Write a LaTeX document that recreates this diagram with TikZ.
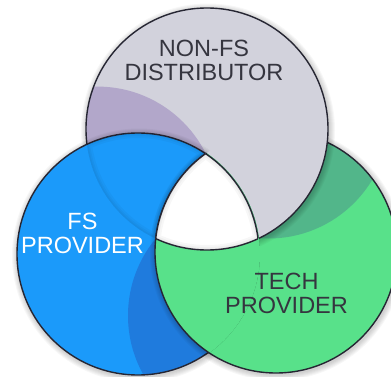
\documentclass[tikz,border=0pt]{standalone}
\usepackage{fontspec}
\setmainfont{Liberation Sans}
\usepackage{tikz}
\definecolor{distgray}{HTML}{D2D2DC}
\definecolor{distpurple}{HTML}{B2A7CA}
\definecolor{fsblue}{HTML}{1B9AFA}
\definecolor{fsdeep}{HTML}{1F7BDD}
\definecolor{techgreen}{HTML}{58E18A}
\definecolor{techdeep}{HTML}{52B68A}
\definecolor{rimgray}{HTML}{262633}
\definecolor{ink}{HTML}{35353F}
\def\ringr{121}
% soft drop shadow round one ring
\newcommand{\softshadow}[1]{%
  \foreach \k in {1,...,6}
    \fill[black,opacity=0.03] ([shift={(1,1.5)}]#1) circle [radius=\ringr+\k];}

\begin{document}
\begin{tikzpicture}[x=1pt,y=-1pt,
    rim/.style={draw=rimgray,line width=1.4pt},
    ringtext/.style={font=\fontsize{23.5}{24}\selectfont,align=center,inner sep=0pt,anchor=north}]
  \fill[white] (0,0) rectangle (391,377);
  \useasboundingbox (0,0) rectangle (391,377);
  \coordinate (dist) at (207,129);
  \coordinate (fs) at (138,254);
  \coordinate (tech) at (276,252);
  \coordinate (distsh) at (97.5,207.6);
  \coordinate (techsh) at (268.5,117.5);
  \coordinate (fssh) at (249,315.6);

  % tech ring, lies under the distributor
  \softshadow{tech}
  \fill[techgreen] (tech) circle [radius=\ringr];
  \begin{scope}
    \clip (tech) circle [radius=\ringr];
    \fill[techdeep] (techsh) circle [radius=\ringr];
  \end{scope}
  \draw[rim] (tech) circle [radius=\ringr];

  % distributor ring
  \softshadow{dist}
  \fill[distgray] (dist) circle [radius=\ringr];
  \begin{scope}
    \clip (dist) circle [radius=\ringr];
    \fill[distpurple] (distsh) circle [radius=\ringr];
  \end{scope}
  \draw[rim] (dist) circle [radius=\ringr];

  % fs ring, no shadow on the tech ring
  \begin{scope}[even odd rule]
    \clip (0,0) rectangle (391,377) (tech) circle [radius=\ringr];
    \softshadow{fs}
  \end{scope}
  \fill[fsblue] (fs) circle [radius=\ringr];
  \begin{scope}
    \clip (fs) circle [radius=\ringr];
    \fill[fsdeep] (fssh) circle [radius=\ringr];
  \end{scope}
  \draw[rim] (fs) circle [radius=\ringr];

  % tech ring again, over the fs ring
  \begin{scope}
    \clip (fs) circle [radius=\ringr+1];
    \softshadow{tech}
    \fill[techgreen] (tech) circle [radius=\ringr];
    \draw[rim] (tech) circle [radius=\ringr];
  \end{scope}

  % the middle piece, common to all three
  \begin{scope}
    \clip (dist) circle [radius=\ringr];
    \clip (fs) circle [radius=\ringr];
    \fill[white] (tech) circle [radius=\ringr];
    \foreach \w in {10,6,3}
      \draw[black,opacity=0.03,line width=\w pt] (dist) circle [radius=\ringr] (fs) circle [radius=\ringr] (tech) circle [radius=\ringr];
  \end{scope}
  \begin{scope}
    \clip (fs) circle [radius=\ringr]; \clip (tech) circle [radius=\ringr];
    \draw[rim] (dist) circle [radius=\ringr];
  \end{scope}
  \begin{scope}
    \clip (dist) circle [radius=\ringr]; \clip (tech) circle [radius=\ringr];
    \draw[rim] (fs) circle [radius=\ringr];
  \end{scope}
  \begin{scope}
    \clip (dist) circle [radius=\ringr]; \clip (fs) circle [radius=\ringr];
    \draw[rim] (tech) circle [radius=\ringr];
  \end{scope}

  \node[ringtext,text=ink] (distname) at (204,40) {NON-FS\\DISTRIBUTOR};
  \node[ringtext,text=white] (fsname) at (82.5,213) {FS\\PROVIDER};
  \node[ringtext,text=ink] (techname) at (286.5,273) {TECH\\PROVIDER};
\end{tikzpicture}
\end{document}
